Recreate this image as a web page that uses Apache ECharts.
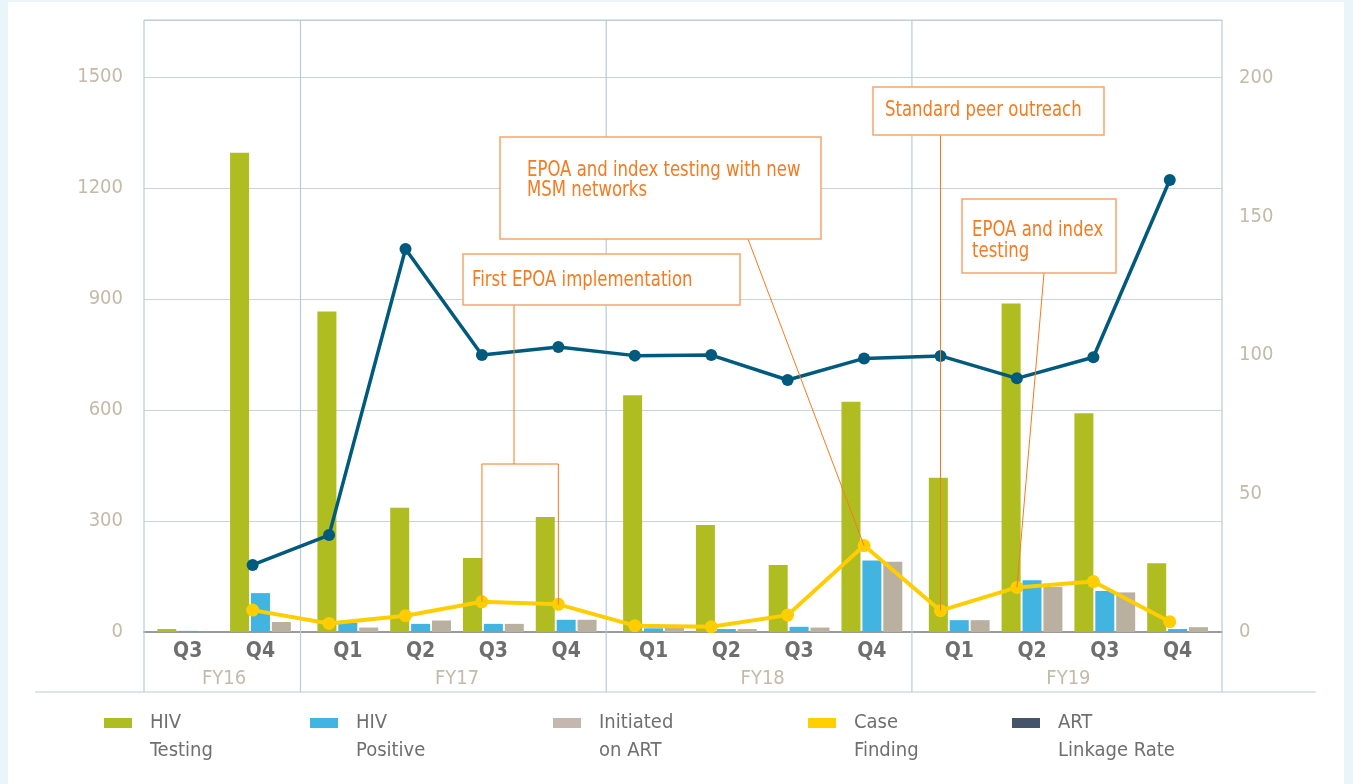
<!DOCTYPE html>
<html>
<head>
<meta charset="utf-8">
<title>HIV testing, case finding and ART linkage</title>
<script src="https://cdn.jsdelivr.net/npm/echarts@6.0.0/dist/echarts.min.js"></script>
<style>
html, body { margin: 0; padding: 0; background: #eaf5fb; overflow: hidden; }
.panel { position: absolute; left: 8px; top: 2px; width: 1336px; height: 782px; background: #fff; }
#chart { position: absolute; left: 0; top: 0; width: 1353px; height: 784px; }
</style>
</head>
<body>
<div class="panel"></div>
<div id="chart"></div>
<script>
// data
const quarters = ["Q3", "Q4", "Q1", "Q2", "Q3", "Q4", "Q1", "Q2", "Q3", "Q4", "Q1", "Q2", "Q3", "Q4"];
const fiscalYears = ["FY16", "FY17", "FY18", "FY19"];
const fyOfQuarter = [0, 0, 1, 1, 1, 1, 2, 2, 2, 2, 3, 3, 3, 3];
const hivTesting = [8, 1295, 866, 336, 200, 311, 640, 289, 181, 622, 417, 888, 591, 186];
const hivPositive = [3, 105, 25, 22, 22, 33, 10, 8, 14, 193, 32, 140, 111, 8];
const initiatedOnArt = [0, 27, 12, 31, 22, 33, 11, 8, 12, 190, 32, 122, 107, 13];
const caseFinding = [null, 7.9, 3.1, 5.9, 10.9, 10.0, 2.3, 1.9, 6.1, 31.2, 7.7, 16.1, 18.2, 3.7];
const artLinkageRate = [null, 24.2, 35.0, 138.3, 100.0, 102.9, 99.8, 100.0, 91.0, 98.8, 99.7, 91.6, 99.2, 163.2];
const leftTicks = [0, 300, 600, 900, 1200, 1500];
const rightTicks = [0, 50, 100, 150, 200];

const font = '"Liberation Sans Narrow", "DejaVu Sans Condensed", "Roboto Condensed", Roboto, sans-serif';
const frameColor = "#b9cbd5";
const orange = "#f47b20";

// bar positions: one step per quarter, small extra gap between fiscal years
const fyGap = 0.2;
const barPos = quarters.map((q, i) => i + fyGap * fyOfQuarter[i]);
const fyCenters = fiscalYears.map((f, k) => {
    const idx = fyOfQuarter.map((v, i) => (v === k ? i : -1)).filter((i) => i >= 0);
    return (barPos[idx[0]] + barPos[idx[idx.length - 1]]) / 2;
});
const dividers = fiscalYears.slice(0, -1).map((f, k) => {
    const last = fyOfQuarter.lastIndexOf(k);
    return barPos[last] + 0.55;
});
const xMin = -0.6;
const xMax = 14.21;

function pair(arr) {
    return arr.map((v, i) => [barPos[i], v]);
}
function posIndex(v) {
    return barPos.findIndex((p) => Math.abs(p - v) < 1e-6);
}

const chart = echarts.init(document.getElementById("chart"));

const legendItems = [
    { name: "HIV Testing", text: "HIV\nTesting", left: 104, color: "#aebd22" },
    { name: "HIV Positive", text: "HIV\nPositive", left: 310, color: "#42b4e4" },
    { name: "Initiated on ART", text: "Initiated\non ART", left: 553, color: "#c3b7af" },
    { name: "Case Finding", text: "Case\nFinding", left: 808, color: "#ffcf00" },
    { name: "ART Linkage Rate", text: "ART\nLinkage Rate", left: 1012, color: "#44546a" },
];

const option = {
    animation: false,
    backgroundColor: "transparent",
    textStyle: { fontFamily: font },
    grid: [
        { left: 144, right: 131, top: 20, bottom: 152, outerBoundsMode: "none" },
        { left: 138, right: 145, top: 20, bottom: 152, outerBoundsMode: "none" },
    ],
    legend: legendItems.map((d) => ({
        left: d.left,
        top: 681,
        padding: 0,
        itemWidth: 28,
        itemHeight: 10,
        icon: "rect",
        selectedMode: false,
        data: [{ name: d.name, icon: "rect", itemStyle: { color: d.color, borderWidth: 0 } }],
        // empty first line keeps the first label line level with the icon
        formatter: () => " \n" + d.text,
        textStyle: {
            fontFamily: font,
            fontSize: 20,
            color: "#6f6f6f",
            lineHeight: 28,
            padding: [0, 0, 0, 13],
        },
    })),
    xAxis: [
        {
            type: "value",
            gridIndex: 0,
            min: xMin,
            max: xMax,
            axisLine: { show: true, onZero: false, lineStyle: { color: "#9b9b9b", width: 2 } },
            axisTick: { show: false },
            splitLine: { show: false },
            axisLabel: {
                customValues: barPos,
                margin: 9,
                fontFamily: font,
                fontSize: 21,
                fontWeight: "bold",
                color: "#6e6e6e",
                formatter: (v) => quarters[posIndex(v)] || "",
            },
        },
        {
            type: "value",
            gridIndex: 0,
            min: xMin,
            max: xMax,
            position: "bottom",
            axisLine: { show: false },
            axisTick: { show: false },
            splitLine: { show: false },
            axisLabel: {
                customValues: fyCenters,
                margin: 37,
                fontFamily: font,
                fontSize: 20,
                color: "#c3baa8",
                formatter: (v) => fiscalYears[fyCenters.findIndex((c) => Math.abs(c - v) < 1e-6)] || "",
            },
        },
        {
            type: "category",
            gridIndex: 1,
            show: false,
            boundaryGap: true,
            data: quarters.map((q, i) => fiscalYears[fyOfQuarter[i]] + " " + q),
        },
    ],
    yAxis: [
        {
            type: "value",
            gridIndex: 0,
            min: 0,
            max: 1654,
            interval: 300,
            axisLine: { show: false },
            axisTick: { show: false },
            splitLine: { show: true, lineStyle: { color: "#c6d5dd", width: 1.2 } },
            axisLabel: {
                customValues: leftTicks,
                margin: 21,
                fontFamily: font,
                fontSize: 20,
                color: "#c3baa8",
                formatter: (v) => String(v),
            },
        },
        {
            type: "value",
            gridIndex: 0,
            position: "right",
            min: 0,
            max: 221,
            interval: 50,
            axisLine: { show: false },
            axisTick: { show: false },
            splitLine: { show: false },
            axisLabel: {
                customValues: rightTicks,
                margin: 17,
                fontFamily: font,
                fontSize: 20,
                color: "#c3baa8",
                formatter: (v) => String(v),
            },
        },
        {
            type: "value",
            gridIndex: 1,
            show: false,
            min: 0,
            max: 221,
        },
    ],
    series: [
        {
            name: "HIV Testing",
            type: "bar",
            xAxisIndex: 0,
            yAxisIndex: 0,
            barWidth: 19,
            barGap: "10%",
            itemStyle: { color: "#afbd21" },
            data: pair(hivTesting),
        },
        {
            name: "HIV Positive",
            type: "bar",
            xAxisIndex: 0,
            yAxisIndex: 0,
            barWidth: 19,
            barGap: "10%",
            itemStyle: { color: "#42b4e2" },
            data: pair(hivPositive),
        },
        {
            name: "Initiated on ART",
            type: "bar",
            xAxisIndex: 0,
            yAxisIndex: 0,
            barWidth: 19,
            barGap: "10%",
            itemStyle: { color: "#b9b09f" },
            data: pair(initiatedOnArt),
        },
        {
            name: "Case Finding",
            type: "line",
            xAxisIndex: 2,
            yAxisIndex: 2,
            z: 4,
            symbol: "circle",
            symbolSize: 13,
            itemStyle: { color: "#ffcd00" },
            lineStyle: { color: "#ffcd00", width: 4 },
            data: caseFinding,
        },
        {
            name: "ART Linkage Rate",
            type: "line",
            xAxisIndex: 2,
            yAxisIndex: 2,
            z: 5,
            symbol: "circle",
            symbolSize: 12,
            itemStyle: { color: "#005a7e" },
            lineStyle: { color: "#005a7e", width: 3.5 },
            data: artLinkageRate,
        },
    ],
};

chart.setOption(option);

// frame lines and annotations, placed from the axes
function drawOverlay() {
    const top = 20;
    const axisY = chart.convertToPixel({ yAxisIndex: 0 }, 0);
    const frameBottom = axisY + 60;
    const leftX = chart.convertToPixel({ xAxisIndex: 0 }, xMin);
    const rightX = chart.convertToPixel({ xAxisIndex: 0 }, xMax);
    const vLines = [leftX, rightX].concat(dividers.map((d) => chart.convertToPixel({ xAxisIndex: 0 }, d)));

    const g = [];
    vLines.forEach((x) => {
        g.push({
            type: "line",
            z: 1,
            shape: { x1: x, y1: top, x2: x, y2: frameBottom },
            style: { stroke: frameColor, lineWidth: 1.2 },
        });
    });
    g.push({ type: "line", z: 1, shape: { x1: leftX, y1: top, x2: rightX, y2: top }, style: { stroke: frameColor, lineWidth: 1.2 } });
    g.push({ type: "line", z: 1, shape: { x1: 35, y1: frameBottom, x2: 1316, y2: frameBottom }, style: { stroke: frameColor, lineWidth: 1.2 } });

    const pt = (i) => chart.convertToPixel({ seriesIndex: 3 }, [i, caseFinding[i]]);
    const lineStyle = { stroke: orange, lineWidth: 1, fill: null };

    // First EPOA implementation -> bracket over FY17 Q3 and Q4
    const p4 = pt(4), p5 = pt(5);
    const bracketY = 464;
    g.push({ type: "polyline", z: 60, shape: { points: [[514, 305], [514, bracketY]] }, style: lineStyle });
    g.push({ type: "polyline", z: 60, shape: { points: [[p4[0], p4[1]], [p4[0], bracketY], [p5[0], bracketY], [p5[0], p5[1]]] }, style: lineStyle });
    // MSM networks -> FY18 Q4
    const p9 = pt(9);
    g.push({ type: "polyline", z: 60, shape: { points: [[748, 239], p9] }, style: lineStyle });
    // Standard peer outreach -> FY19 Q1
    const p10 = pt(10);
    g.push({ type: "polyline", z: 60, shape: { points: [[p10[0], 135], p10] }, style: lineStyle });
    // EPOA and index testing -> FY19 Q2
    const p11 = pt(11);
    g.push({ type: "polyline", z: 60, shape: { points: [[1044, 273], p11] }, style: lineStyle });

    const boxes = [
        { x: 463, y: 254, w: 277, h: 51, tx: 472, ty: 270, text: "First EPOA implementation", lh: 21 },
        { x: 500, y: 137, w: 321, h: 102, tx: 527, ty: 161, text: "EPOA and index testing with new\nMSM networks", lh: 20 },
        { x: 873, y: 87, w: 231, h: 48, tx: 885, ty: 100, text: "Standard peer outreach", lh: 21 },
        { x: 962, y: 199, w: 154, h: 74, tx: 972, ty: 220, text: "EPOA and index\ntesting", lh: 21 },
    ];
    boxes.forEach((b) => {
        g.push({
            type: "rect",
            z: 70,
            shape: { x: b.x, y: b.y, width: b.w, height: b.h },
            style: { fill: "#fff", stroke: "#f8a46c", lineWidth: 1.5 },
        });
        g.push({
            type: "text",
            z: 71,
            x: b.tx,
            y: b.ty,
            scaleX: 0.875,
            style: {
                x: 0,
                y: 0,
                text: b.text,
                fill: orange,
                fontFamily: font,
                fontSize: 21,
                lineHeight: b.lh,
                align: "left",
                verticalAlign: "top",
            },
        });
    });

    chart.setOption({ graphic: { elements: g } });
}
drawOverlay();

window.addEventListener("resize", function () {
    chart.resize();
    drawOverlay();
});
</script>
</body>
</html>
